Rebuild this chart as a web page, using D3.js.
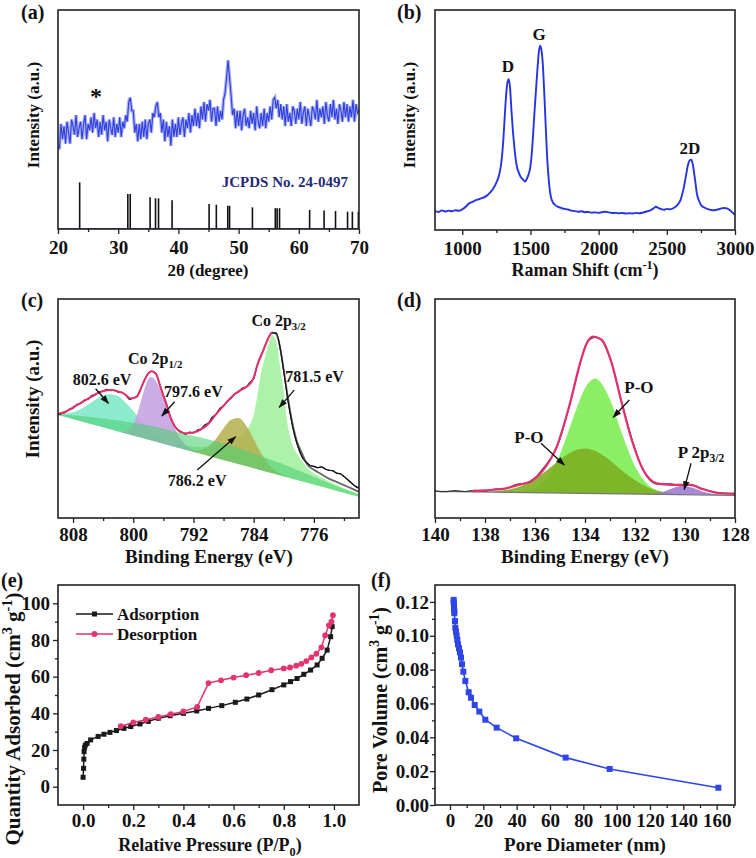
<!DOCTYPE html>
<html><head><meta charset="utf-8">
<script src="https://cdn.jsdelivr.net/npm/d3@7"></script>
<style>
body{margin:0;background:#fff}
svg{display:block}
text{font-family:"Liberation Serif","Times New Roman",serif;font-weight:bold;fill:#111}
</style></head>
<body><svg id="chart" width="756" height="858"></svg>
<script>
// ---------------- DATA ----------------
// (a) XRD, sampled every 0.25 degree from 20 to 70
const xrdStart = 20, xrdStep = 0.25;
const xrdIntensity = [
 37,37,48,41,47,39,49,44, 39,50,47,43,52,42,46,49, 41,48,52,41,48,45,51,44, 53,46,50,42,49,43,52,45,
 49,40,50,46,43,51,42,48, 44,51,42,49,46,52,49,58, 60,54,54,44,48,40,48,41, 49,42,50,41,48,50,44,53,
 51,56,58,51,53,44,50,40, 49,42,47,38,50,42,48,42, 51,43,48,51,42,50,46,53, 44,52,47,55,47,53,46,56,
 50,58,49,57,54,59,49,55, 55,47,56,49,54,50,59,62, 69,77,69,61,52,55,46,54, 47,54,45,52,55,47,51,46,
 54,48,53,45,56,49,46,53, 47,55,46,53,49,56,50,59, 60,55,59,51,57,50,56,47, 57,49,53,47,56,54,48,55,
 50,58,48,53,56,47,55,51, 47,56,54,50,59,49,55,51, 56,48,58,52,49,57,51,59, 50,55,48,57,54,49,58,51,
 57,49,56,51,59,49,57,53, 54];
const jcpdsTheta = [23.6,31.6,32.0,35.3,36.2,36.7,38.95,45.1,46.3,48.2,48.5,52.3,56.1,56.4,56.8,61.8,64.2,66.1,68.1,68.9,69.9];
const jcpdsIntensity = [21.3,16,16,14.5,14,14,13.1,11.4,11.1,10.6,10.6,9.9,9.5,9.5,9.5,8.7,8.4,8.2,7.9,7.9,7.9];

// (b) Raman
const ramanShift = [800,825,850,875,900,925,950,975,1000,1025,1050,1075,1100,1125,1150,1175,1200,1225,1250,1270,1285,1300,1310,1320,1330,1340,1350,1360,1370,1380,1390,1400,1415,1430,1445,1460,1475,1490,1500,1510,1520,1530,1540,1550,1560,1570,1580,1590,1600,1610,1620,1630,1640,1650,1665,1680,1700,1725,1750,1775,1800,1825,1850,1875,1900,1925,1950,1975,2000,2025,2050,2075,2100,2125,2150,2175,2200,2225,2250,2275,2300,2325,2350,2375,2400,2420,2440,2460,2480,2500,2525,2550,2575,2600,2620,2640,2655,2670,2680,2690,2700,2710,2720,2735,2750,2775,2800,2825,2850,2875,2900,2920,2940,2960,2980,3000];
const ramanIntensity = [8.6,8.2,8.9,8.4,8.8,8.5,9.0,8.7,9.4,10.6,12.1,12.8,13.6,14.1,14.6,15.4,16.8,18.6,21.5,25,30,40,50,60,66.5,68.6,65,55,46,39,33,29,26,24,23,22,23.5,26,29,35,44,54,63,72,80,83.8,82,76,64,50,36,26,19,15,12.5,11.4,10.6,10.0,9.6,9.3,8.8,8.6,8.3,8.5,8.1,8.2,7.9,8.0,7.8,8.1,8.3,8.0,7.7,7.8,7.6,7.7,7.5,7.6,7.5,7.8,7.6,7.9,8.4,8.8,9.7,10.6,9.9,9.5,9.2,9.6,9.4,10.0,11.2,13.6,18,24.5,29.5,31.8,32,30,26,21.5,16.7,13.5,11.4,10.2,9.5,9.1,9.0,9.3,9.8,10.0,9.8,9.1,8.0,6.8];
const ramanBands = [["D",1335,72],["G",1563,86.4],["2D",2670,34.4]];

// (c) Co 2p XPS  (component heights above the linear baseline)
const co2pBaseline = [[810,47],[770,9.7]];
const co2pBand = [[810,0.5],[806,3],[802,5],[798,6.5],[794,7],[791,7.5],[788,7.5],[785,7],[782,6],[779,5],[776,3.5],[773,2],[770,1]];
const co8026 = [[810,0.7],[809,1.7],[808,3.2],[807,5.5],[806,8.5],[805,11.8],[804,14.5],[803,16],[802,16],[801,14],[800,11.2],[799,7.9],[798,5],[797,2.9],[796,1.4],[795,0.7],[794,0.2],[793,0]];
const co7976 = [[801.5,0],[801,1],[800.5,2.5],[800,5.2],[799.5,9.9],[799,16.3],[798.5,22.8],[798,27.6],[797.6,29],[797,27.7],[796.5,25],[796,21.1],[795.5,16.7],[795,12.4],[794.5,8.7],[794,5.7],[793.5,3.6],[793,2.1],[792,0.6],[791,0]];
const co7862 = [[793,0],[792,0.6],[791,1.8],[790,4.4],[789,8.8],[788,14.5],[787,19.3],[786,21],[785,18.5],[784,13.3],[783,7.8],[782,3.7],[781,1.4],[780,0.5],[779,0]];
const co7815 = [[800,0.3],[796,0.8],[794,1.3],[793,1.9],[792,2.4],[791,3.2],[790,4.3],[789,5.6],[788,7.1],[787,9.2],[786,12.2],[785,16.2],[784.5,19.3],[784,24.3],[783.5,33.6],[783,44.8],[782.5,52],[782,59],[781.6,63],[781,61],[780.5,49.7],[780,38.7],[779.6,26.5],[779,17.2],[778,11],[777,7.1],[776,5.1],[775,4.1],[774,3.3],[773,2.7],[772,2],[770,1.3]];
const co2pFit = [[810,47.6],[809,48.5],[808,50.5],[807,52.5],[806,54.5],[805,56.5],[804,58],[803,58.4],[802,57.8],[801,56.3],[800.4,54.6],[799.5,55.4],[799,59],[798.5,63],[798,66],[797.6,67],[797,66],[796.4,60],[796,56],[795.5,51],[795.1,46.3],[794.5,42],[794,40],[793.5,39],[792.9,38.7],[792,39],[791.1,40.2],[790,43],[788.9,47.8],[787.8,52],[786.7,56],[785.8,58.3],[784.9,60],[784,64],[783.5,70],[782.7,76.7],[782,82.5],[781.6,84.8],[781,84],[780.7,81.3],[780.2,72],[779.6,58.4],[779,46],[778.3,35.6],[777.5,29],[777,25],[776,22],[775,20],[774,18],[773,16.5],[772,15],[771,13.5],[770,12]];
const co2pData = [[810,47],[809.5,47.8],[809,48.3],[808.5,49.6],[808,50.1],[807.5,51.8],[807,52.3],[806.5,53.9],[806,54.2],[805.5,56],[805,56.3],[804.5,57.7],[804,57.8],[803.5,58.8],[803,58.2],[802.5,58.3],[802,57.5],[801.5,57.4],[801,56.1],[800.5,54.2],[800,54.8],[799.5,55.6],[799,59],[798.5,63],[798,66],[797.6,67],[797,66],[796.4,60],[796,56],[795.5,51],[795,45.8],[794.5,42],[794,40.2],[793.5,39.2],[793,38.3],[792.5,39.2],[792,38.9],[791.5,40.1],[791,40.6],[790.5,42.5],[790,43.4],[789.5,46],[789,47.4],[788.5,50.1],[788,51.2],[787.5,53.5],[787,54.6],[786.5,56.8],[786,57.5],[785.5,59.3],[785,59.8],[784.5,61.9],[784,63.6],[783.5,70],[783,74],[782.5,78.5],[782,82.5],[781.6,84.5],[781,84.5],[780.5,78],[780,67],[779.5,55],[779,45],[778.5,37],[778,31.5],[777.5,27.5],[777,25.5],[776.5,24],[776,23.6],[775.5,23],[775,23.3],[774.5,22.4],[774,21.8],[773.5,21.6],[773,20.5],[772.5,20.2],[772,19],[771.5,17.5],[771,16],[770.5,14.5],[770,13.6]];
const co2pLabels = [
 {parts:[["802.6 eV"]], at:[808.05,60.7]},
 {parts:[["Co 2p"],["1/2","sub"]], at:[800.7,70.3]},
 {parts:[["797.6 eV"]], at:[795.9,55.3]},
 {parts:[["Co 2p"],["3/2","sub"]], at:[784.3,87.8]},
 {parts:[["781.5 eV"]], at:[779.8,62.2]},
 {parts:[["786.2 eV"]], at:[795.4,14.6]}];
const co2pArrows = [[[805.0,59.0],[803.3,52.4]],[[794.5,53.1],[796.2,46.6]],[[778.6,58.4],[780.6,50.5]],[[791.5,21.9],[786.4,37.1]]];

// (d) P 2p XPS
const p2pBaseline = [[140,12.2],[128,10.3]];
const poBig = [[137,0],[136.5,0.5],[136,2.2],[135.5,7.1],[135,17.7],[134.5,33.5],[134,48],[133.6,52.5],[133,43],[132.5,26.9],[132,12.7],[131.5,4.6],[131,1.2],[130.5,0]];
const poSmall = [[138,0],[137.5,0.5],[137,1.4],[136.5,3.2],[136,6.3],[135.5,10.5],[135,15.2],[134.5,19],[134,20.5],[133.5,19],[133,15.2],[132.5,10.5],[132,6.3],[131.5,3.2],[131,1.4],[130.5,0.5],[130,0]];
const p2p32 = [[131.4,0],[131.2,0.3],[130.8,1.5],[130.5,2.9],[130.1,4],[129.7,3.2],[129.3,1.6],[128.9,0.6],[128.5,0.2],[128.2,0]];
const p2pFit = [[138.5,12.3],[138,12.6],[137.5,13.0],[137.13,13.6],[136.7,15],[136.2,16.6],[135.67,21.9],[135.13,32.6],[134.6,52.4],[134.2,70.6],[133.93,79.8],[133.67,82.8],[133.33,81.3],[132.93,70.6],[132.53,52.4],[132.13,35.6],[131.67,21.9],[131.13,15.8],[130.7,15.2],[130.33,15.1],[129.8,15.1],[129.27,13.1],[128.6,11.3],[128,11]];
const p2pData = [[140,12.4],[139.6,12.0],[139.2,12.5],[138.8,12.1],[138.4,12.6],[138,12.3],[137.6,13.2],[137.2,13.4],[136.8,15.2],[136.2,16.4],[135.7,22.3],[135.1,33],[134.6,52],[134.2,70.3],[134.0,78.2],[133.8,81.6],[133.6,82.5],[133.4,81.9],[133.0,73],[132.5,51.6],[132.1,35.2],[131.7,22.4],[131.1,15.5],[130.6,15.6],[130.2,14.8],[129.8,15.4],[129.3,13.4],[128.7,11.6],[128,11.2]];
const p2pLabels = [
 {parts:[["P-O"]], at:[132.43,56.9]},
 {parts:[["P-O"]], at:[136.83,34.4]},
 {parts:[["P 2p"],["3/2","sub"]], at:[130.29,27.3]}];
const p2pArrows = [[[132.23,53.9],[132.87,46.0]],[[135.76,34.1],[134.83,24.2]],[[129.76,25.0],[130.03,13.1]]];

// (e) N2 isotherm
const adsP = [0.0,0.002,0.003,0.004,0.006,0.009,0.016,0.03,0.06,0.083,0.107,0.133,0.163,0.19,0.227,0.26,0.3,0.347,0.4,0.453,0.5,0.553,0.607,0.653,0.7,0.753,0.8,0.827,0.853,0.88,0.907,0.933,0.953,0.973,0.987,0.993];
const adsQ = [5.1,10,15,19.1,21.3,22.7,23.6,25.5,27.4,28.6,29.6,30.6,31.8,32.8,34.2,35.6,37.3,38.7,40,41.3,42.7,44.2,46,47.8,50,52.9,55.5,57.3,59,61.3,63.6,66.4,70,74.5,81.8,87.3];
const desP = [0.996,0.99,0.98,0.965,0.95,0.93,0.91,0.89,0.87,0.85,0.825,0.8,0.75,0.7,0.65,0.6,0.55,0.5,0.455,0.4,0.35,0.3,0.25,0.2,0.15];
const desQ = [93.5,90,88,82.5,76,72.5,70.5,68.5,67,66,65,64.5,63.5,62,60.8,59.5,58,56.5,43.5,41,39.5,38,36.5,35,33];

// (f) BJH pore size distribution
const poreD = [2.2,2.2,2.4,2.4,2.6,2.6,3.0,3.2,3.6,4.0,4.4,4.8,5.4,6.0,6.6,7.2,8.0,9.2,11.2,12.6,14.8,17.6,21.2,28.0,39.7,69.4,95.8,161];
const poreV = [0.1212,0.1196,0.118,0.1164,0.1148,0.1133,0.1087,0.1048,0.1024,0.1,0.0975,0.0949,0.0926,0.0902,0.0871,0.0832,0.0788,0.0733,0.0666,0.0634,0.0591,0.0552,0.0504,0.0457,0.0394,0.028,0.0213,0.0102];

// ---------------- DRAWING ----------------
const svg = d3.select('#chart');
const defs = svg.append('defs');
defs.append('marker').attr('id','arr').attr('viewBox','0 0 10 10').attr('refX',9).attr('refY',5)
  .attr('markerWidth',7).attr('markerHeight',7).attr('orient','auto')
  .append('path').attr('d','M0,1.5 L10,5 L0,8.5 Z').attr('fill','#111');

function rich(t, parts, size){
  let cur = 0;
  parts.forEach(([s,k])=>{
    const target = k==='sup' ? -0.4*size : (k==='sub' ? 0.25*size : 0);
    t.append('tspan').attr('dy', target-cur).attr('font-size', k ? size*0.68 : size).text(s);
    cur = target;
  });
  return t;
}

let clipN = 0;
function panel(o){
  const x = d3.scaleLinear().domain(o.xd).range([o.l,o.r]);
  const y = d3.scaleLinear().domain(o.yd).range([o.b,o.t]);
  const g = svg.append('g');
  const id = 'clip'+(clipN++);
  defs.append('clipPath').attr('id',id).append('rect')
    .attr('x',o.l).attr('y',o.t).attr('width',o.r-o.l).attr('height',o.b-o.t);
  const plot = g.append('g').attr('clip-path',`url(#${id})`);
  g.append('g').attr('transform',`translate(0,${o.b})`)
    .call(d3.axisBottom(x).tickValues(o.xt).tickSize(5).tickPadding(o.xpad||7).tickFormat(o.xf||d3.format('d')));
  if(o.xm) g.append('g').attr('transform',`translate(0,${o.b})`)
    .call(d3.axisBottom(x).tickValues(o.xm).tickSize(3).tickFormat(''));
  if(o.yt){
    g.append('g').attr('transform',`translate(${o.l},0)`)
      .call(d3.axisLeft(y).tickValues(o.yt).tickSize(5).tickPadding(o.ypad||3).tickFormat(o.yf||d3.format('d')));
    if(o.ym) g.append('g').attr('transform',`translate(${o.l},0)`)
      .call(d3.axisLeft(y).tickValues(o.ym).tickSize(3).tickFormat(''));
  }
  g.selectAll('.domain').remove();
  g.selectAll('.tick line').attr('stroke','#222').attr('stroke-width',1.3);
  g.selectAll('.tick text').attr('font-size',o.tfs||19).attr('fill','#111')
    .style('font-family','"Liberation Serif","Times New Roman",serif').style('font-weight','bold');
  return {g,plot,x,y,o};
}
function box(p){
  const o = p.o;
  p.g.append('rect').attr('x',o.l).attr('y',o.t).attr('width',o.r-o.l).attr('height',o.b-o.t)
    .attr('fill','none').attr('stroke','#222').attr('stroke-width',1.6);
}
function xTitle(cx, y, parts, size){ rich(svg.append('text').attr('x',cx).attr('y',y).attr('text-anchor','middle'), parts, size); }
function yTitle(x, cy, parts, size){ rich(svg.append('text').attr('transform',`translate(${x},${cy}) rotate(-90)`).attr('text-anchor','middle'), parts, size); }
function plabel(x,y,s){ svg.append('text').attr('x',x).attr('y',y).attr('font-size',20).text(s); }

// ===== (a) =====
const A = panel({l:58,r:359,t:10,b:229,xd:[20,70],yd:[0,100],xt:[20,30,40,50,60,70],xm:[25,35,45,55,65]});
const xrd = xrdIntensity.map((v,i)=>[xrdStart+i*xrdStep, v]);
const aLine = d3.line().x(d=>A.x(d[0])).y(d=>A.y(d[1]));
A.plot.append('path').datum(xrd).attr('fill','none').attr('stroke','#aab1f2').attr('stroke-width',3.4).attr('d', aLine);
A.plot.append('path').datum(xrd).attr('fill','none').attr('stroke','#2f3fe0').attr('stroke-width',1.1).attr('d', aLine);
A.plot.append('line').attr('x1',A.x(20)).attr('x2',A.x(70)).attr('y1',A.y(0)-0.5).attr('y2',A.y(0)-0.5)
  .attr('stroke','#3344dd').attr('stroke-width',1.2);
A.plot.selectAll('.bar').data(jcpdsTheta).enter().append('line')
  .attr('x1',d=>A.x(d)).attr('x2',d=>A.x(d)).attr('y1',A.y(0)).attr('y2',(d,i)=>A.y(jcpdsIntensity[i]))
  .attr('stroke','#111').attr('stroke-width',1.6);
A.g.append('text').attr('x',A.x(26.3)).attr('y',A.y(57)).attr('text-anchor','middle').attr('font-size',24).text('*');
A.g.append('text').attr('x',A.x(47.2)).attr('y',A.y(19.3)).attr('font-size',15).style('fill','#1f2a78').text('JCPDS No. 24-0497');
box(A);
plabel(21,19,'(a)');
xTitle(208,276,[["2θ (degree)"]],17);
yTitle(39,115,[["Intensity (a.u.)"]],17);

// ===== (b) =====
const B = panel({l:435,r:735,t:10,b:230,xd:[800,3000],yd:[0,100],xt:[1000,1500,2000,2500,3000],xm:[1250,1750,2250,2750]});
B.plot.append('path').datum(ramanShift.map((s,i)=>[s,ramanIntensity[i]])).attr('fill','none')
  .attr('stroke','#2633e2').attr('stroke-width',1.9)
  .attr('d', d3.line().x(d=>B.x(d[0])).y(d=>B.y(d[1])).curve(d3.curveMonotoneX));
B.g.selectAll('.band').data(ramanBands).enter().append('text')
  .attr('x',d=>B.x(d[1])).attr('y',d=>B.y(d[2])).attr('text-anchor','middle').attr('font-size',17).text(d=>d[0]);
box(B);
plabel(397,19,'(b)');
xTitle(585,276,[["Raman Shift (cm"],["-1","sup"],[")"]],18);
yTitle(415,115,[["Intensity (a.u.)"]],17);

// ===== (c) =====
const C = panel({l:58,r:359,t:299,b:518,xd:[810,770],yd:[0,100],xt:[808,800,792,784,776],xm:[804,796,788,780,772],xpad:5});
const cBase = d3.scaleLinear().domain(co2pBaseline.map(d=>d[0])).range(co2pBaseline.map(d=>d[1]));
function cArea(data, fill, op){
  C.plot.append('path').datum(data).attr('fill',fill).attr('fill-opacity',op).attr('stroke','none')
    .attr('d', d3.area().x(d=>C.x(d[0])).y0(d=>C.y(cBase(d[0]))).y1(d=>C.y(cBase(d[0])+d[1])).curve(d3.curveMonotoneX));
}
cArea(co8026,'#78e8c4',0.85);
cArea(co7815,'#9ef09a',0.85);
cArea(co7976,'#c7a3e2',0.9);
cArea(co7862,'#b4ae4e',0.85);
cArea(co2pBand,'#4fcf73',0.6);
const cLine = d3.line().x(d=>C.x(d[0])).y(d=>C.y(d[1])).curve(d3.curveMonotoneX);
C.plot.append('path').datum(co2pData).attr('fill','none').attr('stroke','#111').attr('stroke-width',1.2).attr('d',cLine);
C.plot.append('path').datum(co2pFit.filter(d=>d[0]<=781.6)).attr('fill','none').attr('stroke','#666').attr('stroke-width',1.8).attr('d',cLine);
C.plot.append('path').datum(co2pFit.filter(d=>d[0]>=781.6)).attr('fill','none').attr('stroke','#e3306a').attr('stroke-width',2).attr('d',cLine);
C.plot.append('path').datum(co2pData.filter(d=>d[0]<=781.6)).attr('fill','none').attr('stroke','#111').attr('stroke-width',1.1).attr('d',cLine);
co2pArrows.forEach(a=>C.g.append('line').attr('x1',C.x(a[0][0])).attr('y1',C.y(a[0][1])).attr('x2',C.x(a[1][0])).attr('y2',C.y(a[1][1]))
  .attr('stroke','#111').attr('stroke-width',1.3).attr('marker-end','url(#arr)'));
co2pLabels.forEach(l=>rich(C.g.append('text').attr('x',C.x(l.at[0])).attr('y',C.y(l.at[1])), l.parts, 16));
box(C);
plabel(21,307,'(c)');
xTitle(209,563,[["Binding Energy (eV)"]],19);
yTitle(39,399,[["Intensity (a.u.)"]],19);

// ===== (d) =====
const D = panel({l:435,r:735,t:299,b:518,xd:[140,128],yd:[0,100],xt:[140,138,136,134,132,130,128],xm:[139,137,135,133,131,129],xpad:5});
const dBase = d3.scaleLinear().domain(p2pBaseline.map(d=>d[0])).range(p2pBaseline.map(d=>d[1]));
function dArea(data, fill, op){
  D.plot.append('path').datum(data).attr('fill',fill).attr('fill-opacity',op).attr('stroke','none')
    .attr('d', d3.area().x(d=>D.x(d[0])).y0(d=>D.y(dBase(d[0]))).y1(d=>D.y(dBase(d[0])+d[1])).curve(d3.curveMonotoneX));
}
dArea(poBig,'#84ee5c',0.95);
dArea(poSmall,'#7cae22',0.9);
dArea(p2p32,'#a07ad6',0.9);
const dLine = d3.line().x(d=>D.x(d[0])).y(d=>D.y(d[1])).curve(d3.curveMonotoneX);
D.plot.append('path').datum(p2pBaseline).attr('fill','none').attr('stroke','#777').attr('stroke-width',1.3).attr('d',dLine);
D.plot.append('path').datum(p2pData).attr('fill','none').attr('stroke','#333').attr('stroke-width',1.2).attr('d',dLine);
D.plot.append('path').datum(p2pFit).attr('fill','none').attr('stroke','#e3306a').attr('stroke-width',2.2).attr('d',dLine);
p2pArrows.forEach(a=>D.g.append('line').attr('x1',D.x(a[0][0])).attr('y1',D.y(a[0][1])).attr('x2',D.x(a[1][0])).attr('y2',D.y(a[1][1]))
  .attr('stroke','#111').attr('stroke-width',1.3).attr('marker-end','url(#arr)'));
p2pLabels.forEach(l=>rich(D.g.append('text').attr('x',D.x(l.at[0])).attr('y',D.y(l.at[1])), l.parts, 17));
box(D);
plabel(397,307,'(d)');
xTitle(585,563,[["Binding Energy (eV)"]],19);

// ===== (e) =====
const E = panel({l:58,r:359,t:585,b:805,xd:[-0.1,1.1],yd:[-10,110],xt:[0,0.2,0.4,0.6,0.8,1.0],xm:[0.1,0.3,0.5,0.7,0.9],xf:d3.format('.1f'),xpad:4,
  yt:[0,20,40,60,80,100],ym:[10,30,50,70,90],ypad:3});
const ads = adsP.map((p,i)=>[p,adsQ[i]]), des = desP.map((p,i)=>[p,desQ[i]]);
const eLine = d3.line().x(d=>E.x(d[0])).y(d=>E.y(d[1]));
E.plot.append('path').datum(ads).attr('fill','none').attr('stroke','#1a1a1a').attr('stroke-width',1.5).attr('d',eLine);
E.plot.selectAll('.sq').data(ads).enter().append('rect').attr('x',d=>E.x(d[0])-2.5).attr('y',d=>E.y(d[1])-2.5)
  .attr('width',5).attr('height',5).attr('fill','#1a1a1a');
E.plot.append('path').datum(des).attr('fill','none').attr('stroke','#e5336e').attr('stroke-width',1.5).attr('d',eLine);
E.plot.selectAll('.ci').data(des).enter().append('circle').attr('cx',d=>E.x(d[0])).attr('cy',d=>E.y(d[1])).attr('r',2.9).attr('fill','#e5336e');
const lg = E.g.append('g');
[["Adsorption","#1a1a1a","sq"],["Desorption","#e5336e","ci"]].forEach((s,i)=>{
  const yy = 614 + i*20;
  lg.append('line').attr('x1',76).attr('x2',113).attr('y1',yy).attr('y2',yy).attr('stroke',s[1]).attr('stroke-width',1.5);
  if(s[2]==='sq') lg.append('rect').attr('x',92).attr('y',yy-2.5).attr('width',5).attr('height',5).attr('fill',s[1]);
  else lg.append('circle').attr('cx',94.5).attr('cy',yy).attr('r',2.9).attr('fill',s[1]);
  lg.append('text').attr('x',117).attr('y',yy+6).attr('font-size',17).text(s[0]);
});
box(E);
plabel(1,587,'(e)');
xTitle(210,851,[["Relative Pressure (P/P"],["0","sub"],[")"]],18);
yTitle(20,719,[["Quantity Adsorbed (cm"],["3","sup"],[" g"],["-1","sup"],[")"]],21);

// ===== (f) =====
const F = panel({l:435,r:735,t:585,b:805,xd:[-9,171],yd:[0,0.13],xt:[0,20,40,60,80,100,120,140,160],xm:[10,30,50,70,90,110,130,150,170],xpad:4,
  yt:[0,0.02,0.04,0.06,0.08,0.1,0.12],ym:[0.01,0.03,0.05,0.07,0.09,0.11],yf:d3.format('.2f'),ypad:1});
const pore = poreD.map((d,i)=>[d,poreV[i]]);
F.plot.append('path').datum(pore).attr('fill','none').attr('stroke','#2e46e6').attr('stroke-width',1.6)
  .attr('d', d3.line().x(d=>F.x(d[0])).y(d=>F.y(d[1])));
F.plot.selectAll('.pq').data(pore).enter().append('rect').attr('x',d=>F.x(d[0])-3).attr('y',d=>F.y(d[1])-3)
  .attr('width',6).attr('height',6).attr('fill','#2e46e6');
box(F);
plabel(371,587,'(f)');
xTitle(585,851,[["Pore Diameter (nm)"]],19);
yTitle(387,700,[["Pore Volume (cm"],["3","sup"],[" g"],["-1","sup"],[")"]],20);
</script></body></html>
